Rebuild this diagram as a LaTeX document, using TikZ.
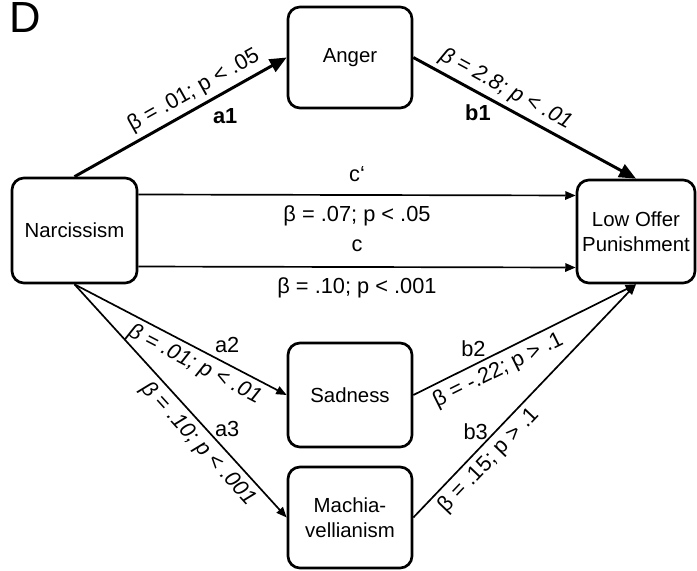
\documentclass[tikz,border=0pt]{standalone}
\usepackage{fontspec}
\setmainfont{Liberation Sans}
\usepackage{tikz}
\usetikzlibrary{arrows.meta}

\newcommand{\boxsize}{\fontsize{14.5}{17.5}\selectfont}
\newcommand{\labelsize}{\fontsize{15.5}{18}\selectfont}

\begin{document}
\begin{tikzpicture}[x=0.025cm, y=-0.025cm,
  every node/.style={font=\labelsize},
  tag/.style={font=\labelsize\bfseries},
  slanted/.style={font=\labelsize\itshape},
  box/.style={draw, line width=1.9pt, rounded corners=0.3cm, align=center, inner sep=0pt, font=\boxsize},
  link/.style={line width=1.2pt, -{Triangle[length=0.26cm, width=0.21cm]}},
  strong link/.style={line width=2.1pt, -{Triangle[length=0.42cm, width=0.35cm]}}]

  \useasboundingbox (0,0) rectangle (697,571);

  % panel letter
  \node[anchor=base west, inner sep=0pt, font=\fontsize{31}{34}\selectfont] (panel) at (9,33) {D};

  % variables
  \node[box, minimum width=3.1cm, minimum height=2.525cm] (anger) at (350,57.5) {Anger};
  \node[box, minimum width=3.125cm, minimum height=2.625cm] (narc) at (74.5,230.5) {Narcissism};
  \node[box, minimum width=2.95cm, minimum height=2.575cm] (offer) at (636,231.5) {Low Offer\\Punishment};
  \node[box, minimum width=3.1cm, minimum height=2.6cm] (sad) at (350,395) {Sadness};
  \node[box, minimum width=3.1cm, minimum height=2.525cm] (mach) at (350,517.5) {Machia-\\vellianism};

  % paths over anger
  \draw[strong link] (narc.north) -- node[sloped, above, pos=0.6] {β = .01; p < .05}
    node[tag, pos=0.71, yshift=-0.6cm] {a1} (anger.west);
  \draw[strong link] (anger.east) -- node[slanted, sloped, above, pos=0.38] {β = 2.8; p < .01}
    node[tag, pos=0.29, yshift=-0.5cm] {b1} (offer.north);

  % direct effects
  \draw[link] ([yshift=0.9cm]narc.east) -- node[yshift=0.52cm] {c‘}
    node[yshift=-0.52cm] {β = .07; p < .05} ([yshift=0.9cm]offer.west);
  \draw[link] ([yshift=-0.9cm]narc.east) -- node[yshift=0.53cm] {c}
    node[yshift=-0.53cm] {β = .10; p < .001} ([yshift=-0.9cm]offer.west);

  % paths over sadness and machiavellianism
  \draw[link] (narc.south) -- node[slanted, sloped, below, pos=0.6] {β = .01; p < .01}
    node[pos=0.72, yshift=0.48cm] {a2} (sad.west);
  \draw[link] (narc.south) -- node[slanted, sloped, below, pos=0.64] {β = .10; p < .001}
    node[pos=0.72, yshift=0.58cm] {a3} (mach.west);
  \draw[link] (sad.east) -- node[sloped, below, pos=0.35] {β = -.22; p > .1}
    node[pos=0.27, yshift=0.42cm] {b2} (offer.south);
  \draw[link] (mach.east) -- node[sloped, below, pos=0.29] {β = .15; p > .1}
    node[pos=0.28, yshift=0.52cm] {b3} (offer.south);

\end{tikzpicture}
\end{document}
